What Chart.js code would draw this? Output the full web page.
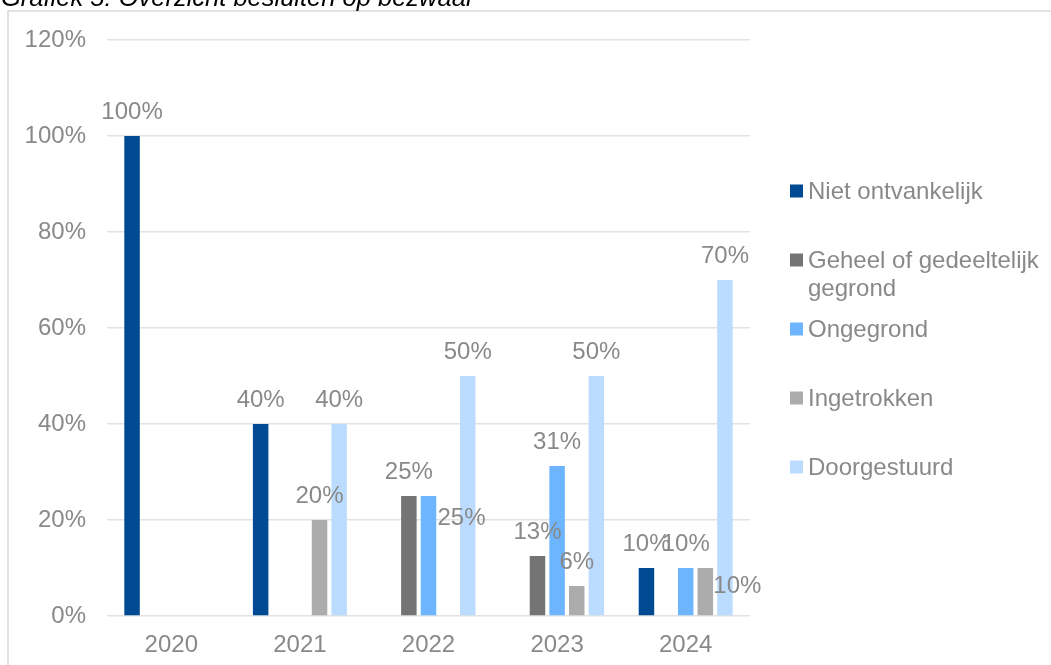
<!DOCTYPE html>
<html>
<head>
<meta charset="utf-8">
<script src="https://cdn.jsdelivr.net/npm/chart.js@4.4.1/dist/chart.umd.min.js"></script>
<style>
  html, body { margin: 0; padding: 0; background: #ffffff; }
  canvas { display: block; }
</style>
</head>
<body>
<canvas id="c" width="1051" height="665"></canvas>
<script>
const titleText = 'Grafiek 5: Overzicht besluiten op bezwaar';
const years = ['2020', '2021', '2022', '2023', '2024'];
const seriesNames = ['Niet ontvankelijk', 'Geheel of gedeeltelijk gegrond', 'Ongegrond', 'Ingetrokken', 'Doorgestuurd'];
const nietOntvankelijk = [100, 40, 0, 0, 10];
const geheelGegrond = [0, 0, 25, 12.5, 0];
const ongegrond = [0, 0, 25, 31.25, 10];
const ingetrokken = [0, 20, 0, 6.25, 10];
const doorgestuurd = [0, 40, 50, 50, 70];
const yTicks = [0, 20, 40, 60, 80, 100, 120];

const colors = ['#004A93', '#747474', '#6DB5FF', '#ACACAD', '#BCDCFF'];
const FONT = '"Liberation Sans", Arial, sans-serif';
const GREY = '#898989';

const frameAndTitle = {
  id: 'frameAndTitle',
  beforeDraw(chart) {
    const ctx = chart.ctx;
    ctx.save();
    ctx.fillStyle = '#ffffff';
    ctx.fillRect(0, 0, chart.width, chart.height);
    ctx.strokeStyle = '#D9D9D9';
    ctx.lineWidth = 1.5;
    ctx.strokeRect(8, 11, chart.width + 50, chart.height + 50);
    ctx.restore();
  },
  afterDraw(chart) {
    const ctx = chart.ctx;
    ctx.save();
    ctx.font = 'italic 25.5px ' + FONT;
    ctx.fillStyle = '#000000';
    ctx.textAlign = 'left';
    ctx.textBaseline = 'alphabetic';
    ctx.fillText(titleText, 1, 6);
    ctx.restore();
  }
};

const valueLabels = {
  id: 'valueLabels',
  afterDatasetsDraw(chart, args, opts) {
    const ctx = chart.ctx;
    ctx.save();
    ctx.font = '24px ' + FONT;
    ctx.fillStyle = GREY;
    ctx.textAlign = 'center';
    ctx.textBaseline = 'middle';
    chart.data.datasets.forEach((ds, di) => {
      const meta = chart.getDatasetMeta(di);
      meta.data.forEach((bar, i) => {
        const v = ds.data[i];
        if (!v) return;
        const n = opts.nudge[di + ':' + i] || [0, 0];
        ctx.fillText(Math.round(v) + '%', bar.x + n[0], bar.y - opts.gap + n[1]);
      });
    });
    ctx.restore();
  }
};

const sideLegend = {
  id: 'sideLegend',
  afterDraw(chart, args, opts) {
    const ctx = chart.ctx;
    ctx.save();
    ctx.font = '24px ' + FONT;
    ctx.textBaseline = 'middle';
    ctx.textAlign = 'left';
    chart.data.datasets.forEach((ds, i) => {
      const cy = opts.top + i * opts.step;
      ctx.fillStyle = ds.backgroundColor;
      ctx.fillRect(opts.x, cy - opts.box / 2, opts.box, opts.box);
      // wrap text
      const words = ds.label.split(' ');
      const lines = [];
      let line = '';
      words.forEach(w => {
        const test = line ? line + ' ' + w : w;
        if (ctx.measureText(test).width > opts.maxWidth && line) {
          lines.push(line);
          line = w;
        } else {
          line = test;
        }
      });
      if (line) lines.push(line);
      ctx.fillStyle = GREY;
      lines.forEach((l, k) => {
        ctx.fillText(l, opts.textX, cy + 1.5 + k * opts.lineHeight);
      });
    });
    ctx.restore();
  }
};

const allSeries = [nietOntvankelijk, geheelGegrond, ongegrond, ingetrokken, doorgestuurd];

new Chart(document.getElementById('c'), {
  type: 'bar',
  data: {
    labels: years,
    datasets: allSeries.map((arr, i) => ({
      label: seriesNames[i],
      data: arr,
      backgroundColor: colors[i],
      borderWidth: 0,
      categoryPercentage: 0.763,
      barPercentage: 0.79
    }))
  },
  options: {
    responsive: false,
    animation: false,
    layout: { padding: { left: 0, top: 40, right: 301, bottom: 0 } },
    plugins: {
      legend: { display: false },
      tooltip: { enabled: false },
      title: { display: false },
      valueLabels: {
        gap: 24,
        nudge: { '2:2': [33, 46], '3:4': [32, 42] }
      },
      sideLegend: { x: 790, top: 191, step: 69, box: 13, textX: 808, maxWidth: 238, lineHeight: 28 }
    },
    scales: {
      x: {
        grid: { display: false, drawTicks: false },
        border: { display: false },
        ticks: { color: GREY, font: { family: FONT, size: 24 }, padding: 15 },
        afterFit(scale) { scale.height = 49; }
      },
      y: {
        min: 0,
        max: 120,
        afterBuildTicks(scale) { scale.ticks = yTicks.map(v => ({ value: v })); },
        grid: { color: '#E2E2E2', lineWidth: 1.5, drawTicks: false },
        border: { display: false },
        ticks: {
          color: GREY,
          font: { family: FONT, size: 24 },
          padding: 21,
          callback: v => v + '%'
        },
        afterFit(scale) { scale.width = 107; }
      }
    }
  },
  plugins: [frameAndTitle, valueLabels, sideLegend]
});
</script>
</body>
</html>
